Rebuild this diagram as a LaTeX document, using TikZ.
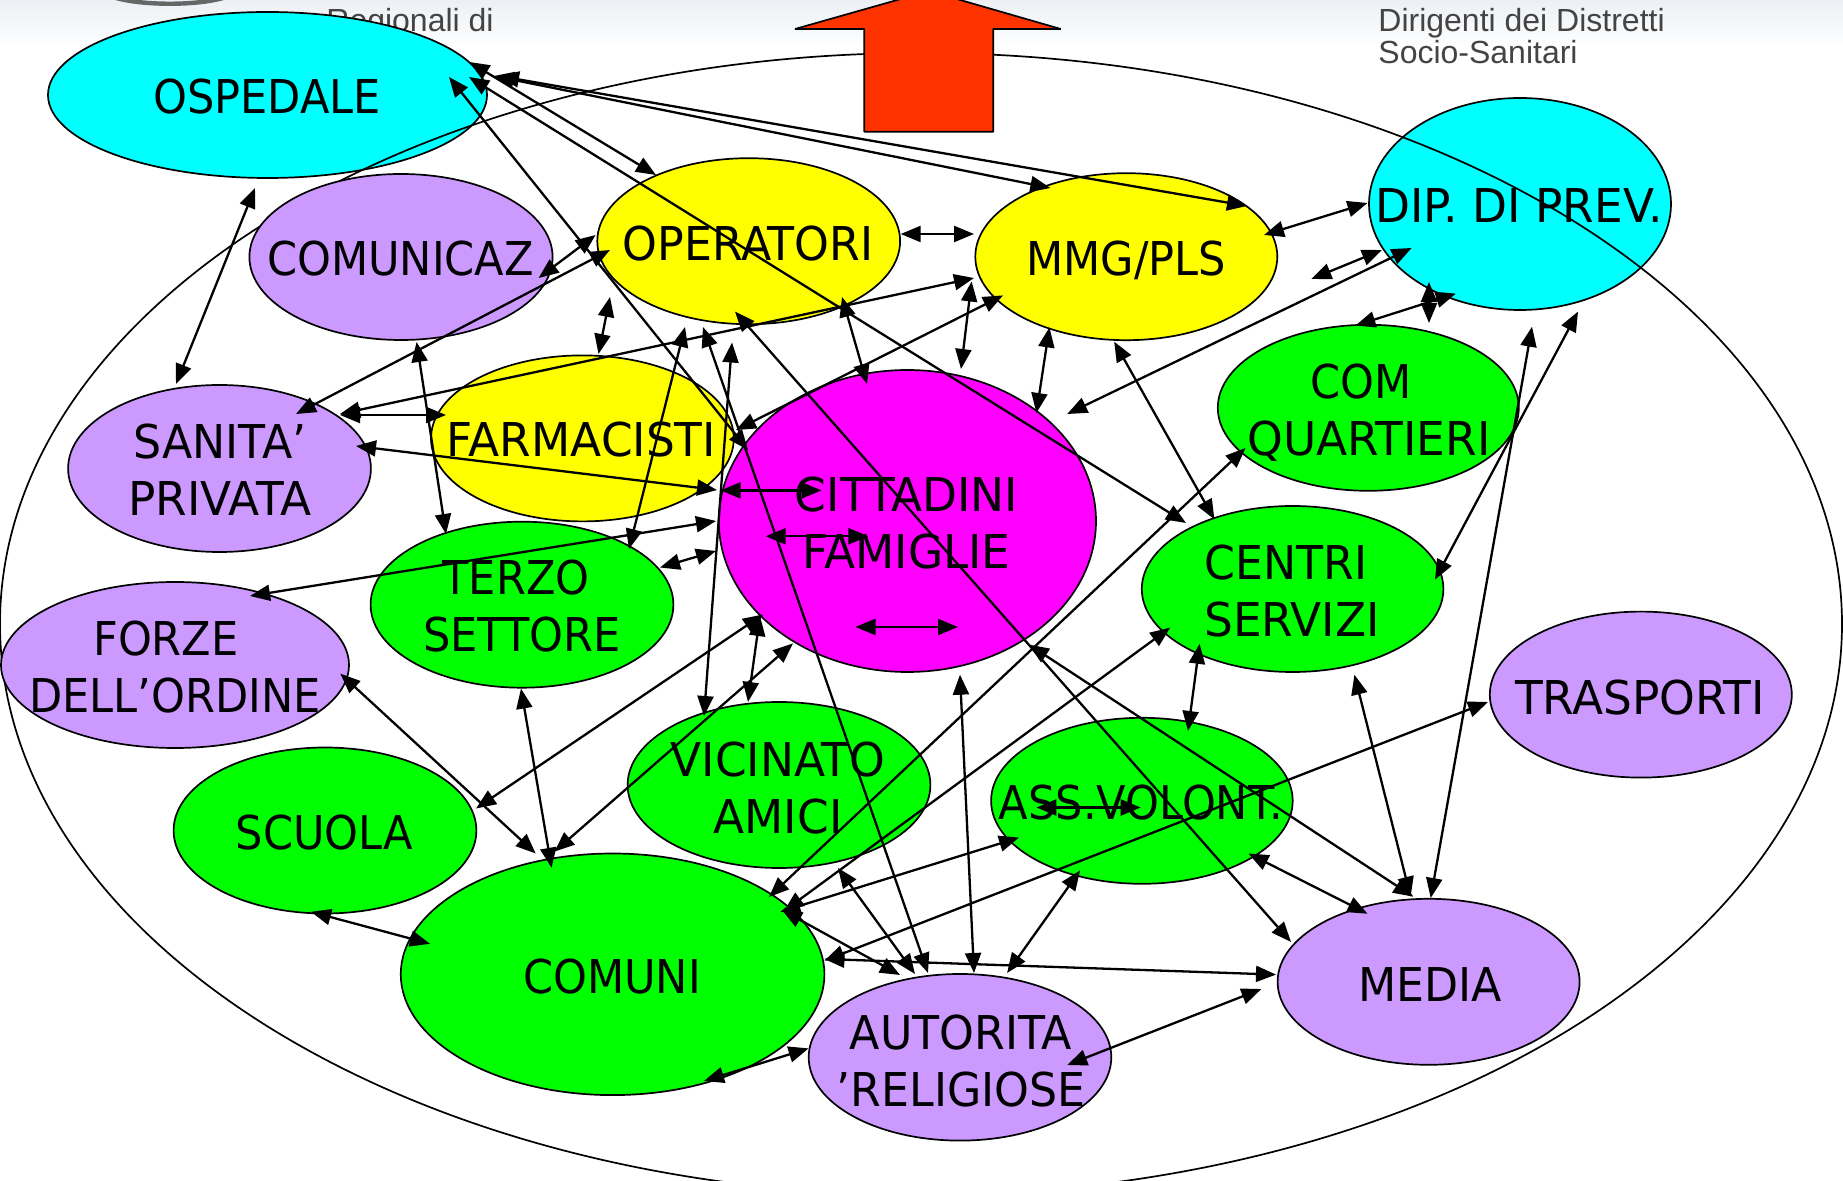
\documentclass[tikz,border=0pt]{standalone}
\usepackage{fontspec}
\usetikzlibrary{shapes.geometric,arrows.meta}
\setmainfont{Liberation Sans}
\newfontfamily\fa[FakeStretch=0.925]{DejaVu Sans}
\newfontfamily\fb[FakeStretch=0.975]{DejaVu Sans}
\newfontfamily\fc[FakeStretch=0.95]{DejaVu Sans}
\definecolor{cCyan}{HTML}{00FFFF}
\definecolor{cLilac}{HTML}{CC99FF}
\definecolor{cYellow}{HTML}{FFFF00}
\definecolor{cGreen}{HTML}{00FF00}
\definecolor{cMag}{HTML}{FF00FF}
\definecolor{cRed}{HTML}{FF3300}
\definecolor{cHead}{HTML}{ECF0F4}
\definecolor{cHeadText}{HTML}{444444}
\tikzset{
  bubble/.style={draw=black,ellipse,inner sep=0pt,line width=0.85pt},
  txt/.style={inner sep=0pt,align=center,text=black,
    font=\fa\fontsize{23.3pt}{28.5pt}\selectfont},
  link/.style={draw=black,line width=1.15pt,
    {Triangle[length=10pt,width=8pt]}-{Triangle[length=10pt,width=8pt]}},
  headtext/.style={inner sep=0pt,anchor=base west,text=cHeadText,
    font=\fontsize{16pt}{19pt}\selectfont},
  zone/.style={draw=black,ellipse,inner sep=0pt,line width=0.85pt,fill=none},
  bigarrow/.style={draw=black,line width=0.85pt,line join=bevel,fill=cRed}
}
% name, centre, rx (=width in pt), ry (=height in pt), colour, text position, text
\newcommand{\bub}[7]{%
  \node[bubble,fill=#5,minimum width=#3pt,minimum height=#4pt] (#1) at (#2) {};
  \node[txt] (#1-t) at (#6) {#7};}
\newcommand{\lnk}[3]{%
  \coordinate (#1a) at (#2);
  \coordinate (#1b) at (#3);
  \draw[link] (#1a) -- (#1b);}
\begin{document}
\begin{tikzpicture}[x=0.5pt,y=-0.5pt]
\useasboundingbox (0,0) rectangle (1843,1181);
\clip (0,0) rectangle (1843,1181);
% header band
\shade[top color=cHead,bottom color=white] (0,0) rectangle (1843,48);
\draw[line width=2.2pt,draw=black!60] (113,-3) .. controls (140,6) and (200,6) .. (226,-3);
\node[headtext] (hreg) at (326,32) {Regionali di};
\node[headtext] (hdir) at (1378,32) {Dirigenti dei Distretti};
\node[headtext] (hsoc) at (1378,63.5) {Socio-Sanitari};
% bubbles under the big ring
\bub{osp}{267.5,95}{219.5}{83}{cCyan}{267,97}{OSPEDALE}
\bub{dip}{1520,204}{151}{106}{cCyan}{1519,206}{\fb DIP. DI PREV.}
\node[zone,minimum width=921pt,minimum height=571pt] (ring) at (921,624) {};
% other bubbles
\bub{com}{401,257}{151.6}{83}{cLilac}{400.5,259}{COMUNICAZ}
\bub{ope}{748.7,241.2}{151.4}{83}{cYellow}{748,244}{\fc OPERATORI}
\bub{san}{219.5,468.5}{151.4}{83.5}{cLilac}{220,470}{\fc SANITA’\\\fb PRIVATA}
\bub{far}{582.4,438.4}{151.4}{83}{cYellow}{581.5,440}{\fb FARMACISTI}
\bub{mmg}{1126.3,256.7}{151}{83.5}{cYellow}{1126.3,260}{\fa MMG/PLS}
\bub{cit}{907.4,521}{188.6}{151}{cMag}{906.5,523}{\fb CITTADINI\\\fb FAMIGLIE}
\bub{ter}{522,604.7}{151.4}{83}{cGreen}{522,606}{TERZO\hspace*{6pt}\\SETTORE}
\bub{for}{175,665}{174}{83}{cLilac}{175,667.5}{FORZE\hspace*{9pt}\\DELL’ORDINE}
\bub{scu}{325,830.5}{151.4}{83}{cGreen}{324.5,832.6}{SCUOLA}
\bub{cmn}{612.6,974.3}{211.8}{120.8}{cGreen}{612,977}{\fa COMUNI}
\bub{vic}{779,785}{151.4}{83}{cGreen}{778,787.6}{\fb VICINATO\\\fb AMICI}
\bub{cqu}{1368.3,407.8}{150.5}{83}{cGreen}{1369,412.5}{COM\hspace*{8pt}\\\fb QUARTIERI}
\bub{cen}{1292.6,589}{150.8}{83}{cGreen}{1292,591}{\fc CENTRI\hspace*{6pt}\\\fb SERVIZI}
\bub{tra}{1640.8,694.6}{151}{83}{cLilac}{1640,698}{\fb TRASPORTI}
\bub{ass}{1141.9,800.8}{150.8}{83}{cGreen}{1141,803}{ASS.VOLONT.}
\bub{med}{1428.6,981.8}{151}{83}{cLilac}{1430,985}{\fc MEDIA}
\bub{aut}{960,1057.3}{151.3}{83.3}{cLilac}{961,1061}{\fc AUTORITA\\\fc ’RELIGIOSE}
% big red arrow
\filldraw[bigarrow] (929,-9) -- (1060.8,29) -- (993.3,29) -- (993.3,131.7) -- (864.3,131.7) -- (864.3,29) -- (795,29) -- cycle;
% connectors
\lnk{l1}{255,188}{176,384}
\lnk{l2}{469.4,62}{656,175}
\lnk{l3}{469,77}{1186,523}
\lnk{l4}{494,76}{1050.4,188}
\lnk{l5}{499,76}{1247,206}
\lnk{l6}{449,77}{748,450}
\lnk{l7}{538.6,278}{595.6,235}
\lnk{l8}{610,250}{296,414}
\lnk{l9}{416.6,342}{446,534}
\lnk{l10}{610,297}{598.5,354}
\lnk{l11}{340,414}{974,278}
\lnk{l12}{340,415}{446,415}
\lnk{l13}{356,446}{717,490}
\lnk{l14}{250,596}{716,521}
\lnk{l15}{660,567.5}{716,551}
\lnk{l16}{685,327}{629,549}
\lnk{l17}{732,342.5}{704,716}
\lnk{l18}{703,327}{928,973}
\lnk{l19}{842,297}{867,384}
\lnk{l20}{735,311.6}{1291,942}
\lnk{l21}{900.7,234}{974,234}
\lnk{l22}{971.6,281.5}{961,369}
\lnk{l23}{1003,295.4}{736,430}
\lnk{l24}{1049.4,327.4}{1036.4,413}
\lnk{l25}{1114.2,341.7}{1214.4,519.4}
\lnk{l26}{1264,235}{1367.5,203}
\lnk{l27}{1067.2,414}{1411.6,248}
\lnk{l28}{1311.3,279}{1382,250}
\lnk{l29}{1355.4,325.6}{1455.8,293.6}
\lnk{l30}{1429,282}{1429,323}
\lnk{l31}{1245.5,448}{769,897}
\lnk{l32}{1578,311.6}{1435,579.6}
\lnk{l33}{1532,326.7}{1430.7,898}
\lnk{l34}{1199.6,643.8}{1188,731}
\lnk{l35}{1354.4,674.7}{1410.6,896.7}
\lnk{l36}{1028.9,644.6}{1413.3,896.7}
\lnk{l37}{1248.5,853.5}{1367.5,913.7}
\lnk{l38}{824.4,959}{1276,974.6}
\lnk{l39}{1067.2,1065}{1261.4,989}
\lnk{l40}{1080.1,870.4}{1007.1,973}
\lnk{l41}{960,674.7}{974,973}
\lnk{l42}{1170.2,627.6}{784,911}
\lnk{l43}{1019,837.6}{780.4,911.8}
\lnk{l44}{1488,702}{824.4,960.7}
\lnk{l45}{838,868}{915,974}
\lnk{l46}{782,910}{900,975}
\lnk{l47}{704,1081}{808.6,1048.4}
\lnk{l48}{311,911.8}{430,943.8}
\lnk{l49}{521,688.6}{551.6,867.8}
\lnk{l50}{340.3,673.6}{535.7,853.5}
\lnk{l51}{763,614.5}{476,808.5}
\lnk{l52}{793,643.4}{554.5,851.6}
\lnk{l53}{760,616}{748,702}
\lnk{l54}{1036.4,807.5}{1140.7,807.5}
\lnk{l55}{720.6,490.4}{821.5,490.4}
\lnk{l56}{765.7,536.3}{868.4,536.3}
\lnk{l57}{855.5,627}{958,627}
\end{tikzpicture}
\end{document}
